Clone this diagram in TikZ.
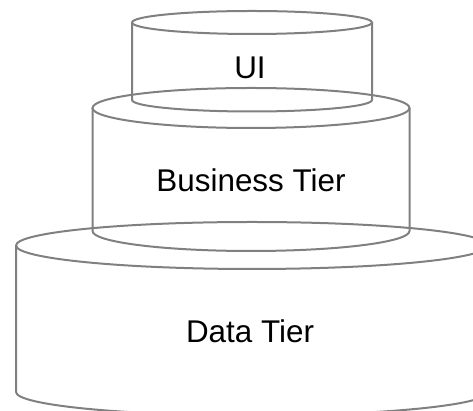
\documentclass[tikz,border=0pt]{standalone}
\usepackage{fontspec}
\setmainfont{Liberation Sans}
\definecolor{tierline}{RGB}{128,128,128}
\begin{document}
\begin{tikzpicture}[x=1pt,y=1pt,
    tier/.style={draw=tierline,line width=2pt},
    tierlabel/.style={font=\fontsize{31.4}{37}\selectfont,text=black}]
      \clip (0,0) rectangle (473,411);
      % UI
      \draw[tier] (252,388.5) ellipse[x radius=120,y radius=11.5];
      \draw[tier] (132,388.5) -- (132,311) arc[start angle=180,end angle=360,x radius=120,y radius=11.5] -- (372,388.5);
      % Business Tier
      \draw[tier] (251,303) ellipse[x radius=158.5,y radius=20];
      \draw[tier] (92.5,303) -- (92.5,180) arc[start angle=180,end angle=360,x radius=158.5,y radius=20] -- (409.5,303);
      % Data Tier
      \draw[tier] (252,165.5) ellipse[x radius=236,y radius=23.5];
      \draw[tier] (16,165.5) -- (16,19) arc[start angle=180,end angle=360,x radius=236,y radius=23.5] -- (488,165.5);
      \node[tierlabel] (ui) at (250,343.5) {UI};
      \node[tierlabel] (business) at (251,231) {Business Tier};
      \node[tierlabel] (data) at (250,80) {Data Tier};
    \end{tikzpicture}
\end{document}
